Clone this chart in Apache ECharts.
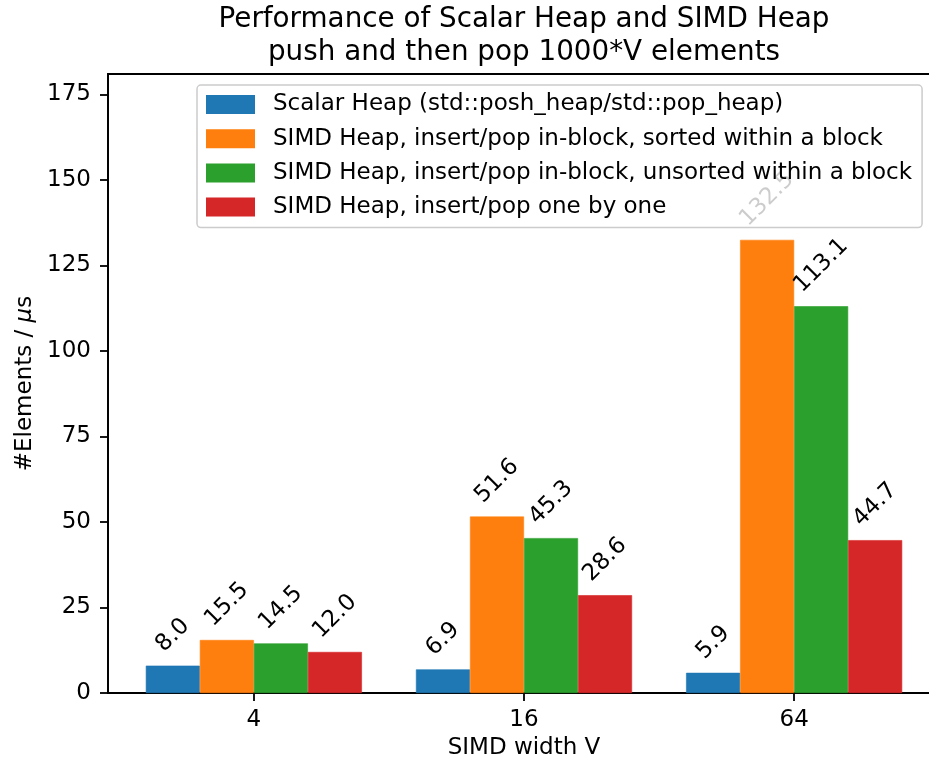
<!DOCTYPE html>
<html>
<head>
<meta charset="utf-8">
<script src="https://cdn.jsdelivr.net/npm/echarts@6/dist/echarts.min.js"></script>
<style>html,body{margin:0;padding:0;background:#fff}#c{width:929px;height:765px}</style>
</head>
<body>
<div id="c"></div>
<script>
const categories = ['4', '16', '64'];
const seriesNames = [
  'Scalar Heap (std::posh_heap/std::pop_heap)',
  'SIMD Heap, insert/pop in-block, sorted within a block',
  'SIMD Heap, insert/pop in-block, unsorted within a block',
  'SIMD Heap, insert/pop one by one'
];
const scalarHeap = [8.0, 6.9, 5.9];
const simdSorted = [15.5, 51.6, 132.5];
const simdUnsorted = [14.5, 45.3, 113.1];
const simdOneByOne = [12.0, 28.6, 44.7];
const yTickStep = 25;

const colors = ['#1f77b4', '#ff7f0e', '#2ca02c', '#d62728'];
const FONT = 'DejaVu Sans';
const FS = 23;

const mctx = document.createElement('canvas').getContext('2d');
mctx.font = FS + 'px "' + FONT + '"';
function labelDistance(txt) {
  const inkW = mctx.measureText(txt).width - 0.2 * FS;
  return 13 + (inkW + 0.73 * FS) / (2 * Math.SQRT2);
}

const allSeries = [scalarHeap, simdSorted, simdUnsorted, simdOneByOne];
const series = allSeries.map((vals, si) => ({
  name: seriesNames[si],
  type: 'bar',
  z: 1,
  barWidth: '20%',
  barGap: '0%',
  itemStyle: { color: colors[si], borderColor: colors[si], borderWidth: 0.6 },
  label: {
    show: true,
    position: 'top',
    rotate: 45,
    align: 'center',
    verticalAlign: 'middle',
    fontFamily: FONT,
    fontSize: FS,
    color: '#000',
    formatter: p => p.value[1].toFixed(1)
  },
  data: vals.map((v, i) => ({
    value: [i, v],
    label: { distance: labelDistance(v.toFixed(1)) }
  }))
}));

const chart = echarts.init(document.getElementById('c'), null, { renderer: 'canvas' });
chart.setOption({
  animation: false,
  backgroundColor: '#fff',
  title: {
    text: 'Performance of Scalar Heap and SIMD Heap\npush and then pop 1000*V elements',
    left: 524,
    top: 3,
    padding: 0,
    textAlign: 'center',
    textStyle: { fontFamily: FONT, fontSize: 27.8, fontWeight: 'normal', color: '#000', lineHeight: 33 }
  },
  legend: {
    orient: 'vertical',
    left: 197,
    top: 85,
    z: 10,
    padding: [7, 10, 8, 9],
    itemWidth: 47,
    itemHeight: 17,
    itemGap: 9.2,
    icon: 'rect',
    selectedMode: false,
    backgroundColor: 'rgba(255,255,255,0.8)',
    borderColor: '#cccccc',
    borderWidth: 1.5,
    borderRadius: 4,
    textStyle: { fontFamily: FONT, fontSize: FS, color: '#000', lineHeight: 25, padding: [0, 0, 0, 14] },
    data: seriesNames
  },
  grid: {
    show: true,
    left: 108,
    right: -11,
    top: 74,
    bottom: 72,
    outerBoundsMode: 'none',
    borderColor: '#000',
    borderWidth: 1.8,
    backgroundColor: 'transparent',
    containLabel: false
  },
  xAxis: {
    type: 'value',
    min: -0.54,
    max: 2.54,
    name: 'SIMD width V',
    nameLocation: 'middle',
    nameGap: 43,
    nameTextStyle: { fontFamily: FONT, fontSize: FS, color: '#000' },
    splitLine: { show: false },
    axisLine: { show: true, onZero: false, lineStyle: { color: '#000', width: 1.8 } },
    axisTick: { show: true, length: 8, lineStyle: { color: '#000', width: 1.8 }, customValues: [0, 1, 2] },
    axisLabel: {
      fontFamily: FONT, fontSize: FS, color: '#000', margin: 16,
      customValues: [0, 1, 2],
      formatter: v => categories[Math.round(v)]
    }
  },
  yAxis: {
    type: 'value',
    min: 0,
    max: 181,
    interval: yTickStep,
    name: '#Elements / {i|μ}s',
    nameLocation: 'middle',
    nameGap: 66,
    nameTextStyle: {
      fontFamily: FONT, fontSize: FS, color: '#000',
      rich: { i: { fontFamily: FONT, fontSize: FS, fontStyle: 'italic', color: '#000' } }
    },
    splitLine: { show: false },
    axisLine: { show: true, onZero: false, lineStyle: { color: '#000', width: 1.8 } },
    axisTick: { show: true, length: 8, lineStyle: { color: '#000', width: 1.8 } },
    axisLabel: { fontFamily: FONT, fontSize: FS, color: '#000', margin: 17 }
  },
  series: series
});
</script>
</body>
</html>
